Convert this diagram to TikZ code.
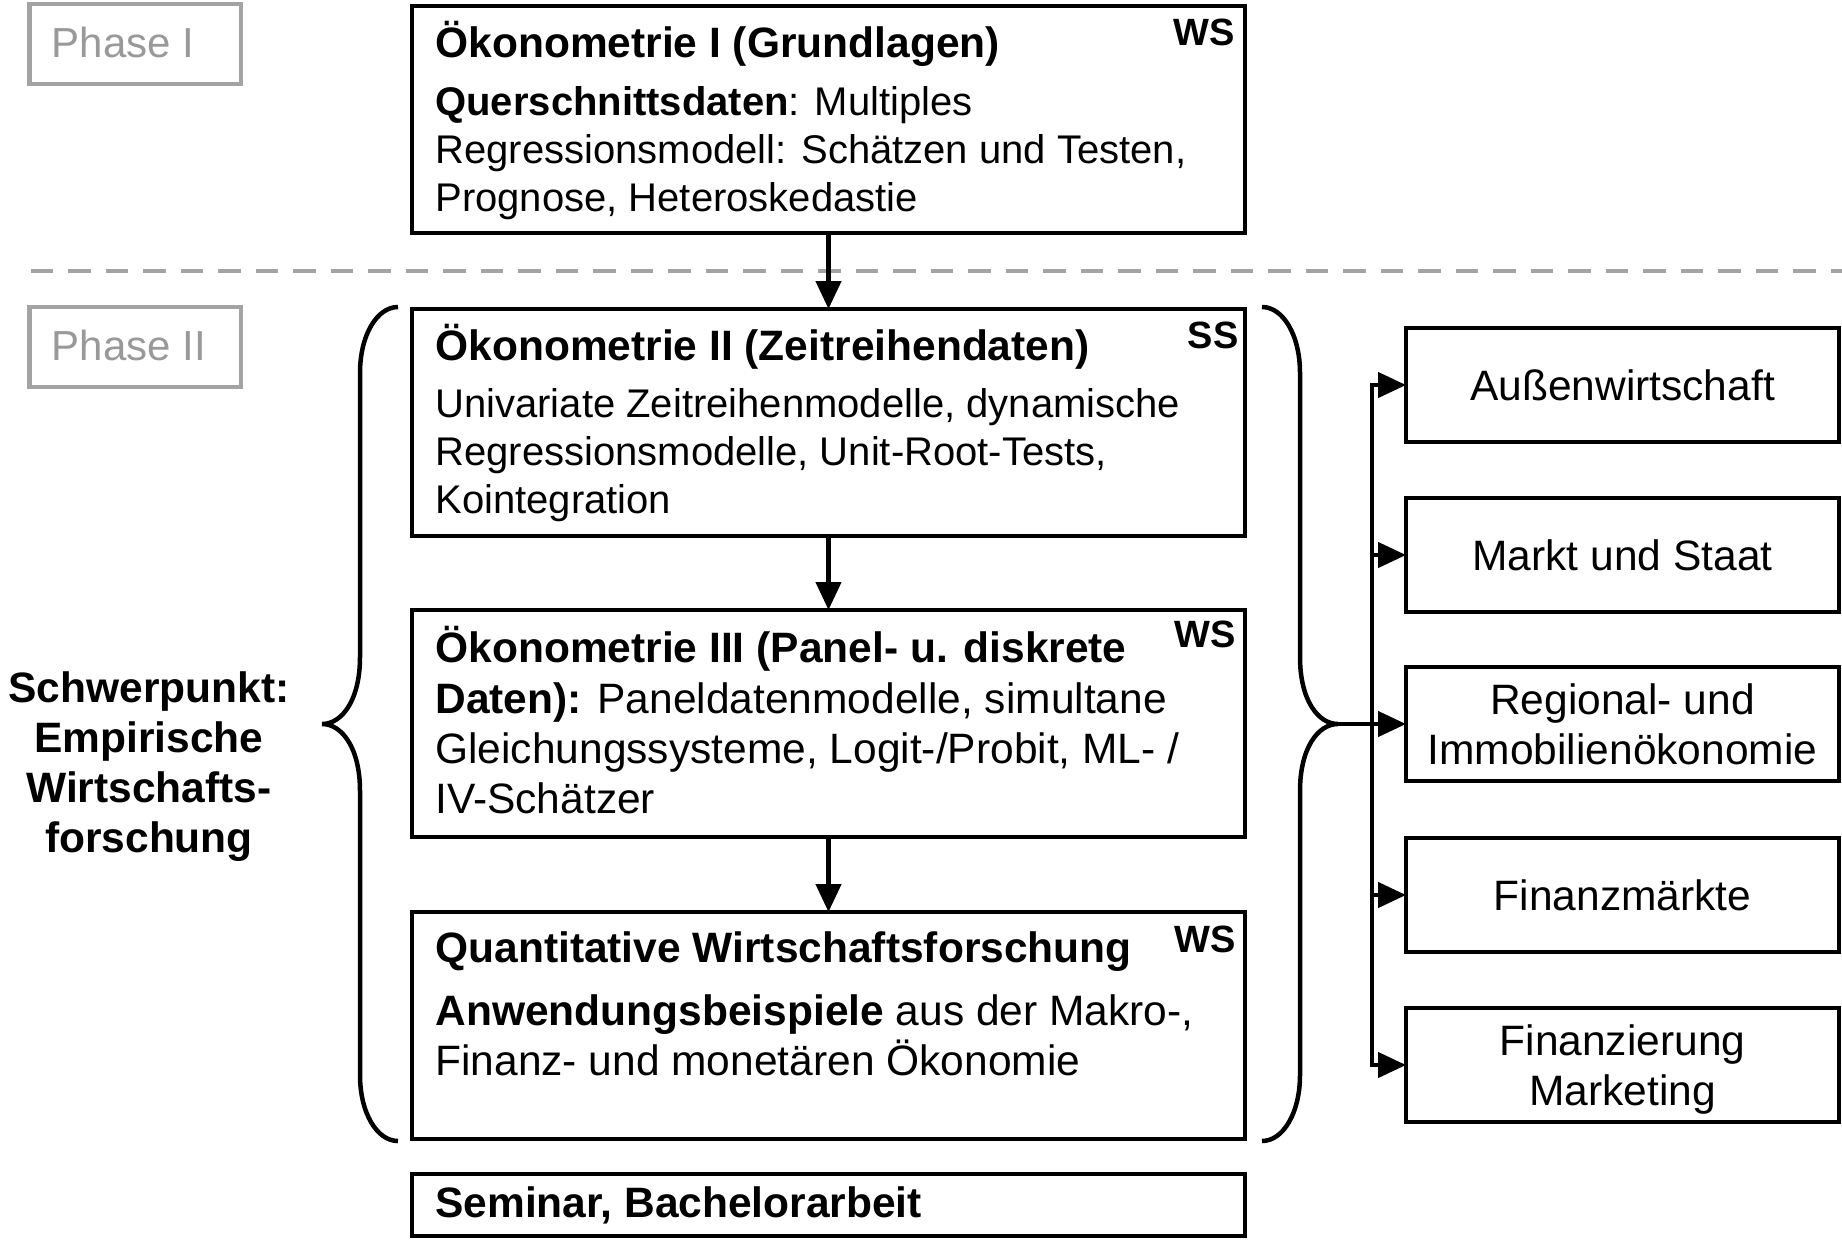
\documentclass[tikz,border=0pt]{standalone}
\usepackage{fontspec}
\setmainfont{Liberation Sans}
\usetikzlibrary{arrows.meta}
\definecolor{phgray}{RGB}{163,163,163}
\definecolor{phtext}{RGB}{153,153,153}
\newcommand\mybody{\fontsize{20pt}{24pt}\selectfont}
\newcommand\mybig{\fontsize{21.25pt}{25pt}\selectfont}
\begin{document}
\begin{tikzpicture}[x=0.5pt,y=-0.5pt,
  box/.style={draw, line width=2.25pt, minimum width=416.5pt, minimum height=113.5pt, anchor=north west, inner sep=0pt, outer sep=0pt},
  rbox/.style={draw, line width=2.25pt, minimum width=216.5pt, minimum height=57pt, anchor=north west, inner sep=0pt, outer sep=0pt, align=center, font=\mybig, text depth=0pt},
  phase/.style={draw=phgray, line width=2.25pt, minimum width=105.75pt, minimum height=40pt, anchor=north west, inner sep=0pt, outer sep=0pt},
  phtxt/.style={anchor=base west, inner sep=0pt, font=\fontsize{21pt}{25pt}\selectfont, text=phtext},
  ln/.style={anchor=base west, inner sep=0pt, font=\mybody},
  lnb/.style={anchor=base west, inner sep=0pt, font=\mybig},
  semtag/.style={anchor=base east, inner sep=0pt, font=\fontsize{19pt}{22pt}\selectfont\bfseries},
  sw/.style={anchor=base, inner sep=0pt, font=\mybig\bfseries},
  conn/.style={line width=2.25pt},
  arr/.style={line width=2.25pt, -{Triangle[length=14pt,width=12.5pt]}},
]
\useasboundingbox (0,0) rectangle (1842,1239);

% phase labels
\node[phase] (p1) at (29.5,4) {};
\node[phtxt] (p1t) at ([shift={(22,53)}]p1.north west) {Phase I};
\node[phase] (p2) at (29.5,307) {};
\node[phtxt] (p2t) at ([shift={(22,53)}]p2.north west) {Phase II};

% separator
\draw[phgray, line width=2.25pt, dash pattern=on 11.25pt off 7.5pt] (30.7,271) -- (1842,271);

% main column
\node[box] (b1) at (412,6) {};
\node[lnb] (t1a) at ([shift={(23,51)}]b1.north west) {\textbf{Ökonometrie I (Grundlagen)}};
\node[ln] (t1b) at ([shift={(23,109)}]b1.north west) {\textbf{Querschnittsdaten}: Multiples};
\node[ln] (t1c) at ([shift={(23,157)}]b1.north west) {Regressionsmodell: Schätzen und Testen,};
\node[ln] (t1d) at ([shift={(23,205)}]b1.north west) {Prognose, Heteroskedastie};
\node[semtag] (s1) at ([shift={(-10,39)}]b1.north east) {WS};

\node[box] (b2) at (412,309) {};
\node[lnb] (t2a) at ([shift={(23,51)}]b2.north west) {\textbf{Ökonometrie II (Zeitreihendaten)}};
\node[ln] (t2b) at ([shift={(23,108)}]b2.north west) {Univariate Zeitreihenmodelle, dynamische};
\node[ln] (t2c) at ([shift={(23,156)}]b2.north west) {Regressionsmodelle, Unit-Root-Tests,};
\node[ln] (t2d) at ([shift={(23,204)}]b2.north west) {Kointegration};
\node[semtag] (s2) at ([shift={(-6,39)}]b2.north east) {SS};

\node[box] (b3) at (412,610) {};
\node[lnb] (t3a) at ([shift={(23,52)}]b3.north west) {\textbf{Ökonometrie III (Panel- u. diskrete}};
\node[lnb] (t3b) at ([shift={(23,103)}]b3.north west) {\textbf{Daten):} Paneldatenmodelle, simultane};
\node[lnb] (t3c) at ([shift={(23,153)}]b3.north west) {Gleichungssysteme, Logit-/Probit, ML- /};
\node[lnb] (t3d) at ([shift={(23,203)}]b3.north west) {IV-Schätzer};
\node[semtag] (s3) at ([shift={(-9,37)}]b3.north east) {WS};

\node[box] (b4) at (412,912) {};
\node[lnb] (t4a) at ([shift={(23,50)}]b4.north west) {\textbf{Quantitative Wirtschaftsforschung}};
\node[lnb] (t4b) at ([shift={(23,113)}]b4.north west) {\textbf{Anwendungsbeispiele} aus der Makro-,};
\node[lnb] (t4c) at ([shift={(23,163)}]b4.north west) {Finanz- und monetären Ökonomie};
\node[semtag] (s4) at ([shift={(-9,40)}]b4.north east) {WS};

\node[box, minimum height=31pt] (b5) at (412,1174) {};
\node[lnb] (t5a) at ([shift={(23,43)}]b5.north west) {\textbf{Seminar, Bachelorarbeit}};

\draw[arr] (b1.south) -- (b2.north);
\draw[arr] (b2.south) -- (b3.north);
\draw[arr] (b3.south) -- (b4.north);

% left label
\node[sw] (sw1) at (149,702) {Schwerpunkt:};
\node[sw] (sw2) at (149,752) {Empirische};
\node[sw] (sw3) at (149,802) {Wirtschafts-};
\node[sw] (sw4) at (149,852) {forschung};

% braces
\coordinate (ltip) at (322,724);
\coordinate (rtip) at (1338,724);
\draw[conn] (398,307) .. controls (377,307) and (360,335) .. (360,373) -- (360,657)
  .. controls (360,700) and (342,724) .. (ltip)
  .. controls (342,724) and (360,748) .. (360,791) -- (360,1075)
  .. controls (360,1113) and (377,1141) .. (398,1141);
\draw[conn] (1262,307) .. controls (1283,307) and (1300,335) .. (1300,373) -- (1300,657)
  .. controls (1300,700) and (1318,724) .. (rtip)
  .. controls (1318,724) and (1300,748) .. (1300,791) -- (1300,1075)
  .. controls (1300,1113) and (1283,1141) .. (1262,1141);

% right boxes
\node[rbox] (aus) at (1406,328) {Außenwirtschaft};
\node[rbox] (mus) at (1406,498) {Markt und Staat};
\node[rbox] (reg) at (1406,667) {Regional- und\\Immobilienökonomie};
\node[rbox] (fim) at (1406,838) {Finanzmärkte};
\node[rbox] (fin) at (1406,1008) {Finanzierung\\Marketing};

\coordinate (sp) at (1372,724);
\draw[arr] (rtip) -- (reg.west);
\draw[conn, line cap=rect] (aus.west -| sp) -- (fin.west -| sp);
\foreach \n in {aus,mus,fim,fin} \draw[arr] (\n.west -| sp) -- (\n.west);
\end{tikzpicture}
\end{document}
